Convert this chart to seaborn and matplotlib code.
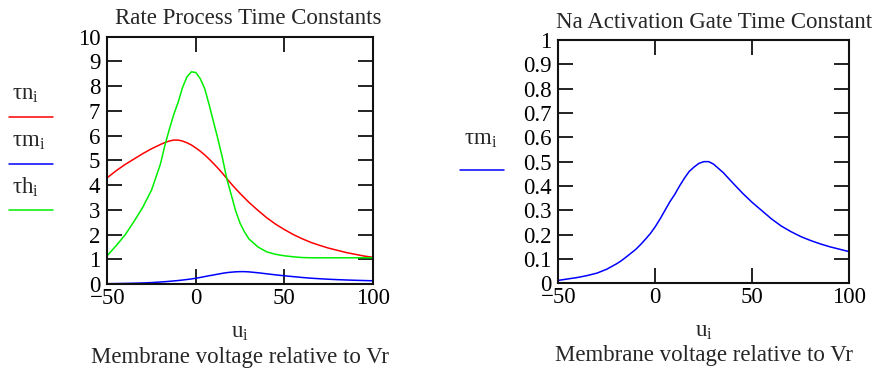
import numpy as np
import pandas as pd
import matplotlib
matplotlib.use("Agg")
import matplotlib.pyplot as plt
from matplotlib.lines import Line2D
import seaborn as sns

# membrane voltage (mV relative to Vr)
u = [-50, -45, -40, -35, -30, -25, -20, -17.5, -15, -12.5, -10, -7.5, -5, -2.5,
     0, 2.5, 5, 7.5, 10, 12.5, 15, 17.5, 20, 22.5, 25, 27.5, 30,
     35, 40, 45, 50, 55, 60, 65, 70, 75, 80, 85, 90, 95, 100]

# time constants
tau_n = [4.30, 4.58, 4.83, 5.05, 5.27, 5.47, 5.64, 5.72, 5.78, 5.82, 5.82, 5.78, 5.71, 5.62,
         5.50, 5.37, 5.22, 5.05, 4.87, 4.68, 4.48, 4.26, 4.05, 3.85, 3.66, 3.48, 3.30,
         2.98, 2.68, 2.42, 2.20, 2.00, 1.83, 1.68, 1.56, 1.45, 1.36, 1.27, 1.20, 1.13, 1.08]
tau_m = [0.012, 0.018, 0.024, 0.032, 0.042, 0.058, 0.080, 0.093, 0.108, 0.124, 0.140, 0.160, 0.182, 0.205,
         0.233, 0.265, 0.300, 0.335, 0.365, 0.400, 0.432, 0.460, 0.478, 0.493, 0.500, 0.500, 0.490,
         0.455, 0.412, 0.370, 0.332, 0.298, 0.264, 0.235, 0.212, 0.192, 0.176, 0.162, 0.150, 0.140, 0.130]
tau_h = [1.15, 1.55, 1.98, 2.52, 3.10, 3.80, 4.85, 5.60, 6.25, 6.85, 7.35, 7.95, 8.38, 8.58,
         8.55, 8.30, 7.90, 7.25, 6.55, 5.85, 5.10, 4.25, 3.60, 2.95, 2.45, 2.10, 1.82,
         1.50, 1.30, 1.20, 1.14, 1.10, 1.07, 1.06, 1.06, 1.06, 1.06, 1.06, 1.06, 1.06, 1.06]

x_ticks = [-50, 0, 50, 100]
left_yticks = list(range(0, 11))
right_yticks = [0, 0.1, 0.2, 0.3, 0.4, 0.5, 0.6, 0.7, 0.8, 0.9, 1]

names = ["τn", "τm", "τh"]
colors = ["#ff0000", "#0000ff", "#00ee00"]

sns.set_style("white")
plt.rcParams['font.family'] = ['Liberation Serif', 'DejaVu Serif']
plt.rcParams['mathtext.fontset'] = 'custom'
plt.rcParams['mathtext.rm'] = 'Liberation Serif'
plt.rcParams['mathtext.it'] = 'Liberation Serif'
plt.rcParams['axes.unicode_minus'] = True

df = pd.DataFrame({"u": u * 3,
                   "tau": tau_n + tau_m + tau_h,
                   "gate": sum([[n] * len(u) for n in names], [])})

fig = plt.figure(figsize=(8.78, 3.71), dpi=100)
ax1 = fig.add_axes([0.1222, 0.2345, 0.3026, 0.6666])
ax2 = fig.add_axes([0.6359, 0.2364, 0.3314, 0.6558])

sns.lineplot(data=df, x="u", y="tau", hue="gate", palette=dict(zip(names, colors)),
             lw=1.1, legend=False, ax=ax1)
sns.lineplot(x=u, y=tau_m, color="#0000ff", lw=1.1, ax=ax2)

fs = 16.5
for ax, yt, ylim in [(ax1, left_yticks, (0, 10)), (ax2, right_yticks, (0, 1))]:
    ax.set_xlim(-50, 100)
    ax.set_ylim(*ylim)
    ax.set_xticks(x_ticks)
    ax.set_yticks(yt)
    ax.set_yticklabels([f"{t:g}" for t in yt])
    ax.set_xlabel("")
    ax.set_ylabel("")
    ax.tick_params(direction="in", length=11, width=1.4, colors="#222222",
                   left=True, bottom=True, top=True, right=True,
                   labelsize=fs, labelcolor="black")
    ax.tick_params(axis="y", pad=5)
    ax.tick_params(axis="x", pad=3)
    for sp in ax.spines.values():
        sp.set_linewidth(1.5)
        sp.set_color("#111111")
    ax.text(0.5, -0.155, r"$\mathregular{u_i}$", transform=ax.transAxes,
            ha="center", va="top", fontsize=fs)
    ax.text(0.5, -0.255, "Membrane voltage relative to Vr", transform=ax.transAxes,
            ha="center", va="top", fontsize=fs)

fig.text(248 / 878, 1 - 18 / 371, "Rate Process Time Constants", ha="center", va="center", fontsize=fs)
fig.text(714 / 878, 1 - 23 / 371, "Na Activation Gate Time Constant", ha="center", va="center", fontsize=fs)

# legend keys at the left of each panel
W, H = 878, 371
for i, (n, c) in enumerate(zip(names, colors)):
    ty = 95 + i * 46
    ly = 117 + i * 46.5
    fig.text(12 / W, 1 - ty / H, r"$\mathregular{%s_i}$" % n, ha="left", va="center", fontsize=fs)
    fig.add_artist(Line2D([9 / W, 53 / W], [1 - ly / H, 1 - ly / H], color=c, lw=1.1))

fig.text(464 / W, 1 - 140 / H, r"$\mathregular{τm_i}$", ha="left", va="center", fontsize=fs)
fig.add_artist(Line2D([460 / W, 504 / W], [1 - 170 / H, 1 - 170 / H], color="#0000ff", lw=1.1))

fig.savefig("out.png", dpi=100)
